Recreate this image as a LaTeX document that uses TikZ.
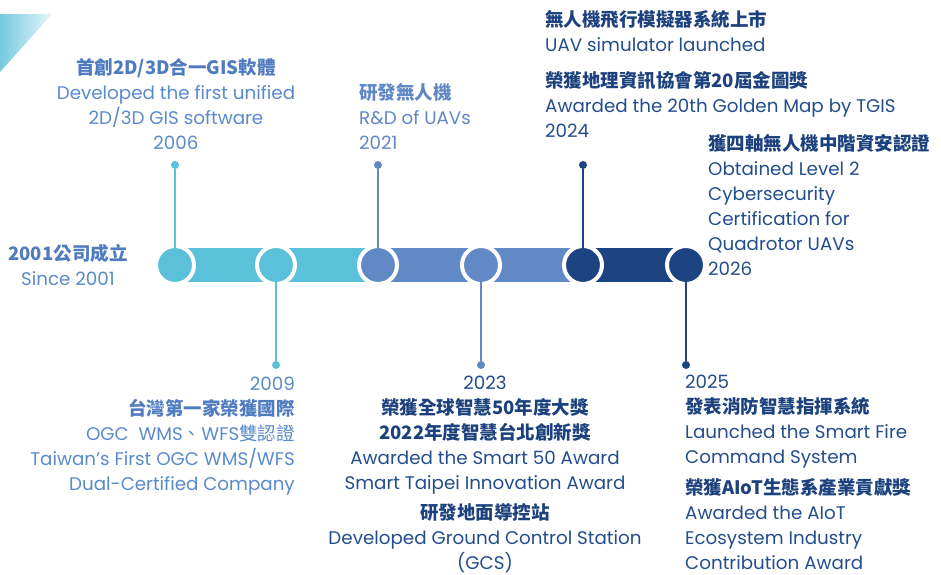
\documentclass[tikz,border=0pt]{standalone}
\usepackage{fontspec}
\setmainfont{Poppins}
\newfontfamily\cjk{Noto Sans CJK TC}
\usetikzlibrary{positioning}
\definecolor{tlcyan}{HTML}{5BC0D9}
\definecolor{tlblue}{HTML}{6089C6}
\definecolor{tlnavy}{HTML}{1B4480}
\definecolor{txlight}{HTML}{5A8ACB}
\definecolor{zhlight}{HTML}{4F7BBF}
\definecolor{txmid}{HTML}{5F87C5}
\definecolor{txnavy}{HTML}{234D8C}
\definecolor{zhnavy}{HTML}{1C417D}
\newcommand{\zh}[1]{{\cjk\bfseries\fontsize{18.5}{25}\selectfont #1}}
\newcommand{\zhr}[1]{{\cjk\fontsize{18.5}{25}\selectfont #1}}

\begin{document}
\begin{tikzpicture}[x=1pt,y=-1pt,
  stone/.style={circle,minimum size=38pt,inner sep=0pt,draw=white,line width=4pt},
  pin/.style={circle,inner sep=0pt,minimum size=8pt},
  stem/.style={line width=2.5pt},
  bar/.style={line width=34pt},
  txt/.style={inner sep=0pt,font=\fontsize{18.3}{25}\selectfont}]

\useasboundingbox (0,0) rectangle (941,574);
\shade[left color=tlcyan!85,right color=tlcyan!15] (0,14) -- (52,14) -- (0,72) -- cycle;

\coordinate (p1) at (175,265);
\coordinate (p2) at (276,265);
\coordinate (p3) at (378,265);
\coordinate (p4) at (481,265);
\coordinate (p5) at (583,265);
\coordinate (p6) at (686,265);

\draw[bar,tlcyan] (p1) -- (p2);
\draw[bar,tlcyan] (p2) -- (p3);
\draw[bar,tlblue] (p3) -- (p4);
\draw[bar,tlblue] (p4) -- (p5);
\draw[bar,tlnavy] (p5) -- (p6);

\node[stone,fill=tlcyan] (c1) at (p1) {};
\node[stone,fill=tlcyan] (c2) at (p2) {};
\node[stone,fill=tlblue] (c3) at (p3) {};
\node[stone,fill=tlblue] (c4) at (p4) {};
\node[stone,fill=tlnavy] (c5) at (p5) {};
\node[stone,fill=tlnavy] (c6) at (p6) {};

\node[pin,fill=tlcyan] (d1) at (175,165) {};
\node[pin,fill=tlcyan] (d2) at (276,365) {};
\node[pin,fill=tlblue] (d3) at (378,165) {};
\node[pin,fill=tlblue] (d4) at (481,365) {};
\node[pin,fill=tlnavy] (d5) at (583,165) {};
\node[pin,fill=tlnavy] (d6) at (686,365) {};

\draw[stem,tlcyan] (d1) -- (c1.center);
\draw[stem,tlcyan] (d2) -- (c2.center);
\draw[stem,tlblue] (d3) -- (c3.center);
\draw[stem,tlblue] (d4) -- (c4.center);
\draw[stem,tlnavy] (d5) -- (c5.center);
\draw[stem,tlnavy] (d6) -- (c6.center);

\node[txt,txlight,anchor=base,align=center] (t2001) at (68,285)
  {\color{zhlight}\zh{2001公司成立}\\Since 2001};
\node[txt,txlight,anchor=base,align=center] (t2006) at (176,149)
  {\color{zhlight}\zh{首創2D/3D合一GIS軟體}\\Developed the first unified\\2D/3D GIS software\\2006};
\node[txt,txmid,anchor=base west,align=left] (t2021) at (359,149)
  {\zh{研發無人機}\\R\&D of UAVs\\2021};
\node[txt,txnavy,anchor=base west,align=left] (t2024) at (545,137)
  {{\color{zhnavy}\zh{無人機飛行模擬器系統上市}}\\UAV simulator launched\\[11pt]
   {\color{zhnavy}\zh{榮獲地理資訊協會第20屆金圖獎}}\\Awarded the 20th Golden Map by TGIS\\2024};
\node[txt,txnavy,anchor=base west,align=left] (t2026) at (708,275)
  {{\color{zhnavy}\zh{獲四軸無人機中階資安認證}}\\Obtained Level 2\\Cybersecurity\\Certification for\\Quadrotor UAVs\\2026};
\node[txt,txlight,anchor=base east,align=right] (t2009) at (295,490)
  {2009\\{\color{zhlight}\zh{台灣第一家榮獲國際}}\\OGC\ \ WMS\zhr{、}WFS\zhr{雙認證}\\Taiwan's First OGC WMS/WFS\\Dual-Certified Company};
\node[txt,txnavy,anchor=base,align=center] (t2023) at (485,569)
  {2023\\{\color{zhnavy}\zh{榮獲全球智慧50年度大獎}}\\{\color{zhnavy}\zh{2022年度智慧台北創新獎}}\\Awarded the Smart 50 Award\\Smart Taipei Innovation Award\\[5pt]
   {\color{zhnavy}\zh{研發地面導控站}}\\Developed Ground Control Station\\(GCS)};
\node[txt,txnavy,anchor=base west,align=left] (t2025) at (685,569)
  {2025\\{\color{zhnavy}\zh{發表消防智慧指揮系統}}\\Launched the Smart Fire\\Command System\\[6pt]
   {\color{zhnavy}\zh{榮獲AIoT生態系產業貢獻獎}}\\Awarded the AIoT\\Ecosystem Industry\\Contribution Award};
\end{tikzpicture}
\end{document}
